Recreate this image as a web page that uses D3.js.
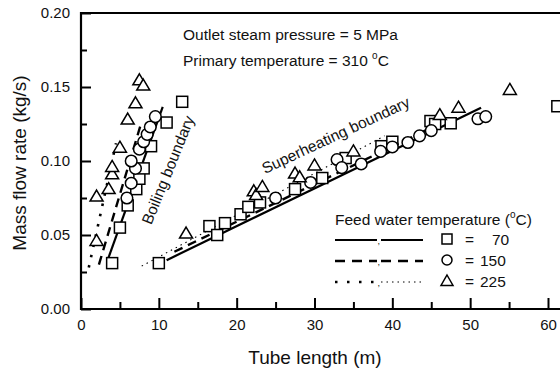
<!DOCTYPE html>
<html>
<head>
<meta charset="utf-8">
<script src="https://cdn.jsdelivr.net/npm/d3@7"></script>
<style>
  body { margin: 0; background: #fff; }
  svg text { font-family: "Liberation Sans", Arial, sans-serif; fill: #111; }
</style>
</head>
<body>
<svg id="chart" width="560" height="376"></svg>
<script>
// axis ticks
var xMajor = [0, 10, 20, 30, 40, 50, 60];
var xMinor = [5, 15, 25, 35, 45, 55];
var yMajor = [0.00, 0.05, 0.10, 0.15, 0.20];
var yMinor = [0.025, 0.075, 0.125, 0.175];

// boiling boundary points [tube length m, mass flow kg/s]
var boilSq70 = [[4.0,0.031],[5.0,0.055],[6.0,0.070],[7.1,0.081],[7.5,0.088],[8.05,0.095],[9.0,0.110],[11.0,0.126],[13.0,0.140]];
var boilCi150 = [[5.9,0.075],[6.45,0.085],[7.0,0.095],[6.45,0.100],[7.5,0.108],[8.05,0.113],[8.5,0.118],[8.9,0.123],[9.55,0.130]];
var boilTr225 = [[2.0,0.046],[2.0,0.076],[3.55,0.081],[4.0,0.091],[4.0,0.096],[5.0,0.109],[6.0,0.128],[7.0,0.139],[7.5,0.1545],[8.0,0.151]];

// superheating boundary points
var supSq70 = [[10.0,0.031],[16.5,0.056],[17.5,0.050],[18.5,0.058],[20.5,0.064],[21.5,0.069],[23.0,0.072],[27.5,0.081],[31.0,0.0885],[34.0,0.102],[38.6,0.110],[40.0,0.113],[44.9,0.127],[45.5,0.125],[47.5,0.1255],[61.2,0.137]];
var supCi150 = [[25.0,0.075],[29.5,0.0855],[32.9,0.101],[33.5,0.0955],[36.0,0.098],[38.5,0.1065],[40.0,0.1095],[42.0,0.1125],[43.5,0.117],[45.0,0.1205],[51.0,0.1285],[52.0,0.130]];
var supTr225 = [[13.5,0.051],[22.2,0.0795],[22.5,0.077],[23.3,0.0825],[27.5,0.0915],[28.1,0.089],[30.0,0.097],[35.0,0.1065],[46.1,0.131],[48.5,0.136],[55.1,0.148]];

// fitted boundary lines
var boilLine70 = [[3.35,0.032],[10.5,0.1365]];
var boilLine150 = [[2.3,0.030],[7.7,0.125]];
var boilLine225 = [[1.0,0.028],[4.5,0.112]];
var supLine70 = [[11.0,0.033],[51.4,0.136]];
var supLine150 = [[12.0,0.0387],[46.0,0.125]];
var supLine225 = [[7.8,0.029],[39.0,0.117]];

var legendLabels = ["70", "150", "225"];

var svg = d3.select("#chart");
var x = d3.scaleLinear().domain([0, 60]).range([81, 548]);
var y = d3.scaleLinear().domain([0, 0.2]).range([309, 13]);

var line = d3.line().x(function(d) { return x(d[0]); }).y(function(d) { return y(d[1]); });

// boundary lines
var lines = [
  { d: boilLine70, w: 2.2, dash: null },
  { d: boilLine150, w: 2.4, dash: "9,6" },
  { d: boilLine225, w: 2.6, dash: "2.5,8" },
  { d: supLine70, w: 2.2, dash: null },
  { d: supLine150, w: 2.4, dash: "9,6" },
  { d: supLine225, w: 1.1, dash: "1.5,4" }
];
svg.selectAll(".fit").data(lines).enter().append("path")
  .attr("class", "fit")
  .attr("d", function(l) { return line(l.d); })
  .attr("fill", "none").attr("stroke", "#000")
  .attr("stroke-width", function(l) { return l.w; })
  .attr("stroke-dasharray", function(l) { return l.dash; });

// marker shapes
function square(g) {
  g.append("rect").attr("x", -5.5).attr("y", -5.5).attr("width", 11).attr("height", 11);
}
function circle(g) {
  g.append("circle").attr("r", 5.8);
}
function triangle(g) {
  g.append("path").attr("d", "M0,-6.5L6.5,4.5L-6.5,4.5Z");
}
function drawMarkers(data, shape) {
  var g = svg.append("g").attr("fill", "#fff").attr("stroke", "#000").attr("stroke-width", 1.5);
  data.forEach(function(d) {
    var m = g.append("g").attr("transform", "translate(" + x(d[0]) + "," + y(d[1]) + ")");
    shape(m);
  });
}
drawMarkers(boilSq70.concat(supSq70), square);
drawMarkers(boilCi150.concat(supCi150), circle);
drawMarkers(boilTr225.concat(supTr225), triangle);

// axes, ticks point inward
svg.append("g").attr("transform", "translate(0,309)")
  .call(d3.axisBottom(x).tickValues(xMajor).tickSize(-11).tickSizeOuter(0).tickPadding(10).tickFormat(d3.format("d")));
svg.append("g").attr("transform", "translate(0,309)")
  .call(d3.axisBottom(x).tickValues(xMinor).tickSize(-7).tickSizeOuter(0).tickFormat(""));
svg.append("g").attr("transform", "translate(81,0)")
  .call(d3.axisLeft(y).tickValues(yMajor).tickSize(-10).tickSizeOuter(0).tickPadding(11).tickFormat(d3.format(".2f")));
svg.append("g").attr("transform", "translate(81,0)")
  .call(d3.axisLeft(y).tickValues(yMinor).tickSize(-6).tickSizeOuter(0).tickFormat(""));
svg.selectAll(".domain").remove();
svg.selectAll(".tick line").attr("stroke", "#000").attr("stroke-width", 2);
svg.selectAll(".tick text").attr("font-size", 15).attr("font-family", null);

// frame lines
svg.append("line").attr("x1", 80).attr("x2", 560).attr("y1", 309).attr("y2", 309).attr("stroke", "#000").attr("stroke-width", 2.2);
svg.append("line").attr("x1", 80).attr("x2", 560).attr("y1", 13).attr("y2", 13).attr("stroke", "#000").attr("stroke-width", 2.2);
svg.append("line").attr("x1", 81).attr("x2", 81).attr("y1", 12).attr("y2", 310).attr("stroke", "#000").attr("stroke-width", 2.2);

// axis titles
svg.append("text").attr("x", 315).attr("y", 364).attr("text-anchor", "middle").attr("font-size", 19).text("Tube length (m)");
svg.append("text").attr("transform", "translate(26,163) rotate(-90)").attr("text-anchor", "middle").attr("font-size", 19).text("Mass flow rate (kg/s)");

// annotations
svg.append("text").attr("x", 183).attr("y", 40).attr("font-size", 15.5).text("Outlet steam pressure = 5 MPa");
var t2 = svg.append("text").attr("x", 183).attr("y", 66).attr("font-size", 15.5);
t2.append("tspan").text("Primary temperature = 310 ");
t2.append("tspan").attr("font-size", 10).attr("dy", -7).text("o");
t2.append("tspan").attr("dy", 7).text("C");

svg.append("text").attr("transform", "translate(173,172) rotate(-68)").attr("text-anchor", "middle").attr("font-size", 15.5).text("Boiling boundary");
svg.append("text").attr("transform", "translate(338,140) rotate(-25)").attr("text-anchor", "middle").attr("font-size", 15.5).text("Superheating boundary");

// legend
var lt = svg.append("text").attr("x", 335).attr("y", 225).attr("font-size", 15.5);
lt.append("tspan").text("Feed water temperature (");
lt.append("tspan").attr("font-size", 10).attr("dy", -7).text("o");
lt.append("tspan").attr("dy", 7).text("C)");

var rowsY = [240, 261, 282];
var legendStyles = [
  { left: { w: 2.2, dash: null }, right: { w: 2.2, dash: null } },
  { left: { w: 2.6, dash: "10,7" }, right: { w: 2.6, dash: "10,7" } },
  { left: { w: 2.6, dash: "2.5,9.5" }, right: { w: 1.0, dash: "1.5,4" } }
];
legendStyles.forEach(function(s, i) {
  var yy = rowsY[i];
  svg.append("line").attr("x1", 335).attr("x2", 377).attr("y1", yy).attr("y2", yy)
    .attr("stroke", "#000").attr("stroke-width", s.left.w).attr("stroke-dasharray", s.left.dash);
  svg.append("text").attr("x", 377.5).attr("y", yy + 4).attr("font-size", 9).text(",");
  svg.append("line").attr("x1", 381).attr("x2", 423).attr("y1", yy).attr("y2", yy)
    .attr("stroke", "#000").attr("stroke-width", s.right.w).attr("stroke-dasharray", s.right.dash);
  var m = svg.append("g").attr("transform", "translate(447," + (yy - 1) + ")")
    .attr("fill", "#fff").attr("stroke", "#000").attr("stroke-width", 1.5);
  if (i === 0) m.append("rect").attr("x", -5).attr("y", -5).attr("width", 10).attr("height", 10);
  if (i === 1) m.append("circle").attr("r", 5);
  if (i === 2) m.append("path").attr("d", "M0,-6L6,4.5L-6,4.5Z");
  svg.append("text").attr("x", 465).attr("y", yy + 5).attr("font-size", 15.5).text("=");
  svg.append("text").attr("x", i === 0 ? 492 : 480).attr("y", yy + 5).attr("font-size", 15.5).text(legendLabels[i]);
});
</script>
</body>
</html>
